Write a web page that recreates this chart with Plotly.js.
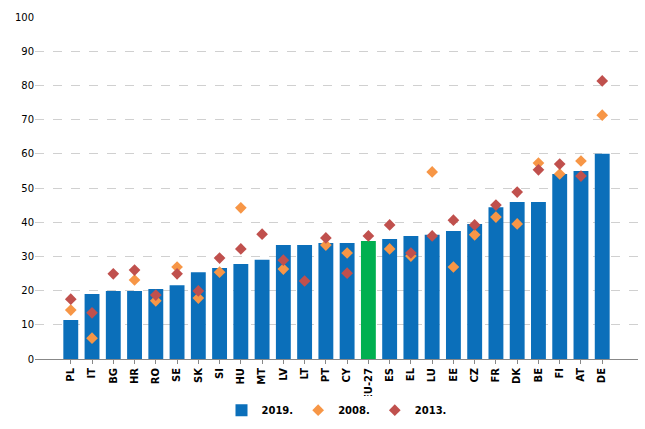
<!DOCTYPE html>
<html><head><meta charset="utf-8">
<script src="https://cdn.plot.ly/plotly-3.0.1.min.js"></script>
<style>body{margin:0}#c{width:645px;height:429px}</style></head>
<body><div id="c"></div>
<script>
const categories=["PL","IT","BG","HR","RO","SE","SK","SI","HU","MT","LV","LT","PT","CY","EU-27","ES","EL","LU","EE","CZ","FR","DK","BE","FI","AT","DE"];
const v2019=[11.4,19,19.9,19.9,20.5,21.6,25.4,26.6,27.8,29,33.3,33.3,33.9,33.9,34.5,35.1,36,36.3,37.4,39.5,44.4,45.9,45.9,54.1,55,60];
const v2008=[14.3,6.1,null,23.1,17,26.9,17.8,25.4,44.2,null,26.3,null,33.3,31,null,32.2,30.1,54.7,26.9,36.3,41.5,39.5,57.3,54.1,57.9,71.3];
const v2013=[17.5,13.5,24.9,26,18.7,24.9,19.9,29.5,32.2,36.5,28.9,22.8,35.4,25.1,36,39.2,31,36,40.6,39.2,45,48.8,55.3,57,53.5,81.3];
const barColors=categories.map(c=>c==="EU-27"?"#00B050":"#0B6FBA");
const data=[
{type:"bar",x:categories,y:v2019,name:"2019.",marker:{color:barColors},width:0.7},
{type:"scatter",mode:"markers",x:categories,y:v2008,name:"2008.",marker:{symbol:"diamond",color:"#F79646",size:9}},
{type:"scatter",mode:"markers",x:categories,y:v2013,name:"2013.",marker:{symbol:"diamond",color:"#C0504D",size:9}}
];
const layout={width:645,height:429,margin:{l:35,r:7,t:17,b:70,autoexpand:false},
paper_bgcolor:"#fff",plot_bgcolor:"#fff",showlegend:true,
font:{family:"DejaVu Sans",size:10,color:"#000"},
legend:{orientation:"h",x:0.5,xanchor:"center",yref:"container",y:0.01,yanchor:"bottom",itemwidth:30,font:{size:10,family:"DejaVu Sans",weight:"bold"}},
xaxis:{tickangle:-90,tickfont:{size:10,weight:"bold"},showline:true,linecolor:"#888",ticks:"outside",ticklen:4,tickcolor:"#888",automargin:false},
yaxis:{range:[0,100],dtick:10,gridcolor:"#d0d0d0",griddash:"dash",zeroline:false,showline:false,tickfont:{size:10},automargin:false}
};
Plotly.newPlot("c",data,layout,{displayModeBar:false});
</script></body></html>
